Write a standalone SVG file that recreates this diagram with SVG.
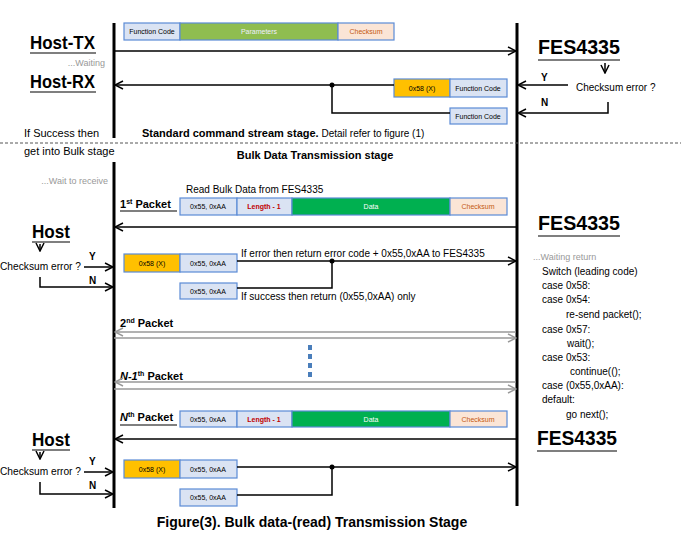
<svg xmlns="http://www.w3.org/2000/svg" width="681" height="547" viewBox="0 0 681 547">
<defs>
<marker id="ah" markerWidth="10" markerHeight="10" refX="9" refY="5" orient="auto" markerUnits="userSpaceOnUse"><path d="M1,1 L9,5 L1,9" fill="none" stroke="#000" stroke-width="1.5"/></marker>
<marker id="ahg" markerWidth="10" markerHeight="10" refX="9" refY="5" orient="auto" markerUnits="userSpaceOnUse"><path d="M1,1 L9,5 L1,9" fill="none" stroke="#999" stroke-width="1.5"/></marker>
</defs>
<style>
text{font-family:"Liberation Sans",Arial,sans-serif;fill:#000}
.big{font-size:19px;font-weight:bold}
.fes{font-size:21px;font-weight:bold}
.lbl{font-size:10px}
.bx{font-size:7px;text-anchor:middle}
.grey{fill:#999;font-size:9px}
.b{font-weight:bold}
.ln{stroke:#000;stroke-width:1.5;fill:none}
.life{stroke:#000;stroke-width:3}
.lb{fill:#dae3f3;stroke:#5b8bd6;stroke-width:1.2}
.gr{fill:#ffc000;stroke:#5b8bd6;stroke-width:1.2}
.ck{fill:#fbe5d6;stroke:#5b8bd6;stroke-width:1.2}
.pm{fill:#8fbd50;stroke:#5b8bd6;stroke-width:1.2}
.dt{fill:#00b050;stroke:#5b8bd6;stroke-width:1.2}
.und{stroke:#000;stroke-width:1.2}
</style>
<rect width="681" height="547" fill="#fff"/>
<g id="lifelines">
<line class="life" x1="114" y1="23" x2="114" y2="138"/>
<line class="life" x1="114" y1="162" x2="114" y2="508"/>
<line class="life" x1="517" y1="23" x2="517" y2="506"/>
<line x1="0" y1="143" x2="681" y2="143" stroke="#555" stroke-width="1" stroke-dasharray="3,2"/>
</g>
<g id="labels">
<text x="30" y="49" class="big" textLength="65" lengthAdjust="spacingAndGlyphs">Host-TX</text><line class="und" x1="30" y1="53" x2="96" y2="53"/>
<text x="105" y="66" class="grey" text-anchor="end">...Waiting</text>
<text x="30" y="88" class="big" textLength="65" lengthAdjust="spacingAndGlyphs">Host-RX</text><line class="und" x1="30" y1="92" x2="96" y2="92"/>
<text x="538" y="54" class="fes" textLength="82" lengthAdjust="spacingAndGlyphs">FES4335</text><line class="und" x1="538" y1="60" x2="620" y2="60"/>
<text x="576" y="91" class="lbl">Checksum error ?</text>
<text x="541" y="81" class="lbl b">Y</text><text x="541" y="106" class="lbl b">N</text>
<text x="24" y="137" font-size="11">If Success then</text>
<text x="24" y="155" font-size="11">get into Bulk stage</text>
<text x="142" y="137" font-size="11" class="b">Standard command stream stage.<tspan font-weight="normal" font-size="10"> Detail refer to figure (1)</tspan></text>
<text x="315" y="159" font-size="11" class="b" text-anchor="middle">Bulk Data Transmission stage</text>
<text x="108" y="184" class="grey" text-anchor="end">...Wait to receive</text>
<text x="186" y="193" class="lbl">Read Bulk Data from FES4335</text>
<text x="120" y="208" font-size="11" class="b">1<tspan font-size="7" dy="-4">st</tspan><tspan dy="4"> Packet</tspan></text><line class="und" x1="120" y1="211" x2="177" y2="211"/>
<text x="538" y="230" class="fes" textLength="82" lengthAdjust="spacingAndGlyphs">FES4335</text><line class="und" x1="538" y1="236" x2="620" y2="236"/>
<text x="32" y="238" class="big" textLength="38" lengthAdjust="spacingAndGlyphs">Host</text><line class="und" x1="32" y1="242" x2="70" y2="242"/>
<text x="0" y="270" class="lbl" textLength="81" lengthAdjust="spacingAndGlyphs">Checksum error ?</text>
<text x="89" y="260" class="lbl b">Y</text><text x="89" y="284" class="lbl b">N</text>
<text x="241" y="257" class="lbl">If error  then return error code +  0x55,0xAA to FES4335</text>
<text x="241" y="300" class="lbl">If success then return (0x55,0xAA) only</text>
<text x="120" y="327" font-size="11" class="b">2<tspan font-size="7" dy="-4">nd</tspan><tspan dy="4"> Packet</tspan></text>
<text x="120" y="380" font-size="11" class="b"><tspan font-style="italic">N-1</tspan><tspan font-size="7" dy="-4">th</tspan><tspan dy="4"> Packet</tspan></text>
<text x="120" y="421" font-size="11" class="b"><tspan font-style="italic">N</tspan><tspan font-size="7" dy="-4">th</tspan><tspan dy="4"> Packet</tspan></text><line class="und" x1="120" y1="425" x2="177" y2="425"/>
<text x="537" y="445" class="fes" textLength="80" lengthAdjust="spacingAndGlyphs">FES4335</text><line class="und" x1="537" y1="451" x2="617" y2="451"/>
<text x="32" y="446" class="big" textLength="38" lengthAdjust="spacingAndGlyphs">Host</text><line class="und" x1="32" y1="450" x2="70" y2="450"/>
<text x="0" y="475" class="lbl" textLength="81" lengthAdjust="spacingAndGlyphs">Checksum error ?</text>
<text x="89" y="465" class="lbl b">Y</text><text x="89" y="489" class="lbl b">N</text>
<text x="533" y="260" class="grey">...Waiting return</text>
<g class="lbl">
<text x="542" y="275">Switch (leading code)</text>
<text x="542" y="289">case 0x58:</text>
<text x="542" y="303">case 0x54:</text>
<text x="566" y="318">re-send packet();</text>
<text x="542" y="333">case 0x57:</text>
<text x="567" y="347">wait();</text>
<text x="542" y="361">case 0x53:</text>
<text x="570" y="375">continue(();</text>
<text x="542" y="389">case (0x55,0xAA):</text>
<text x="542" y="403">default:</text>
<text x="566" y="418">go next();</text>
</g>
<text x="312" y="527" font-size="14" class="b" text-anchor="middle">Figure(3). Bulk data-(read) Transmission Stage</text>
<g fill="#4a7ebb"><rect x="308" y="345" width="4" height="5"/><rect x="308" y="354" width="4" height="5"/><rect x="308" y="363" width="4" height="5"/><rect x="308" y="372" width="4" height="5"/></g>
</g>
<g id="boxes">
<rect class="lb" x="124" y="23" width="56" height="17"/><text class="bx" x="152" y="34">Function Code</text>
<rect class="pm" x="180" y="23" width="158" height="17"/><text class="bx" x="259" y="34" font-size="8" style="fill:#eef">Parameters</text>
<rect class="ck" x="338" y="23" width="56" height="17"/><text class="bx" x="366" y="34" style="fill:#c55a11" font-size="8">Checksum</text>
<rect class="gr" x="394" y="79" width="56" height="18"/><text class="bx" x="422" y="91">0x58 (X)</text>
<rect class="lb" x="450" y="79" width="57" height="18"/><text class="bx" x="478" y="91">Function Code</text>
<rect class="lb" x="450" y="108" width="57" height="16"/><text class="bx" x="478" y="119">Function Code</text>
<rect class="lb" x="180" y="198" width="57" height="17"/><text class="bx" x="208" y="209">0x55, 0xAA</text>
<rect class="lb" x="237" y="198" width="55" height="17"/><text class="bx b" x="264" y="209" style="fill:#c00000">Length - 1</text>
<rect class="dt" x="292" y="198" width="158" height="17"/><text class="bx" x="371" y="209" style="fill:#fff" font-size="8">Data</text>
<rect class="ck" x="450" y="198" width="57" height="17"/><text class="bx" x="478" y="209" style="fill:#c55a11" font-size="8">Checksum</text>
<rect class="gr" x="124" y="254" width="56" height="18"/><text class="bx" x="152" y="266">0x58 (X)</text>
<rect class="lb" x="180" y="254" width="57" height="18"/><text class="bx" x="208" y="266">0x55, 0xAA</text>
<rect class="lb" x="180" y="283" width="57" height="16"/><text class="bx" x="208" y="294">0x55, 0xAA</text>
<rect class="lb" x="180" y="411" width="57" height="16"/><text class="bx" x="208" y="422">0x55, 0xAA</text>
<rect class="lb" x="237" y="411" width="55" height="16"/><text class="bx b" x="264" y="422" style="fill:#c00000">Length - 1</text>
<rect class="dt" x="292" y="411" width="158" height="16"/><text class="bx" x="371" y="422" style="fill:#fff" font-size="8">Data</text>
<rect class="ck" x="450" y="411" width="57" height="16"/><text class="bx" x="478" y="422" style="fill:#c55a11" font-size="8">Checksum</text>
<rect class="gr" x="124" y="460" width="56" height="18"/><text class="bx" x="152" y="472">0x58 (X)</text>
<rect class="lb" x="180" y="460" width="57" height="18"/><text class="bx" x="208" y="472">0x55, 0xAA</text>
<rect class="lb" x="180" y="489" width="57" height="17"/><text class="bx" x="208" y="500">0x55, 0xAA</text>
</g>
<g id="connectors">
<line class="ln" x1="114" y1="51" x2="516" y2="51" marker-end="url(#ah)"/>
<line class="ln" x1="394" y1="85" x2="115" y2="85" marker-end="url(#ah)"/>
<circle cx="332" cy="85" r="2.5"/>
<path class="ln" d="M332,85 V113 H450"/>
<line class="ln" x1="605" y1="63" x2="605" y2="73" marker-end="url(#ah)"/>
<line class="ln" x1="568" y1="85" x2="518" y2="85" marker-end="url(#ah)"/>
<path class="ln" d="M608,102 V113 H518" marker-end="url(#ah)"/>
<line class="ln" x1="516" y1="227" x2="115" y2="227" marker-end="url(#ah)"/>
<line class="ln" x1="40" y1="244" x2="40" y2="251" marker-end="url(#ah)"/>
<line class="ln" x1="84" y1="267" x2="113" y2="267" marker-end="url(#ah)"/>
<path class="ln" d="M40,277 V287 H113" marker-end="url(#ah)"/>
<line class="ln" x1="237" y1="261" x2="516" y2="261" marker-end="url(#ah)"/>
<circle cx="332" cy="261" r="2.5"/>
<path class="ln" d="M237,288 H332 V261"/>
<line x1="516" y1="332" x2="115" y2="332" stroke="#999" stroke-width="1.5" marker-end="url(#ahg)"/>
<line x1="114" y1="338" x2="516" y2="338" stroke="#999" stroke-width="1.5" marker-end="url(#ahg)"/>
<line x1="516" y1="382" x2="115" y2="382" stroke="#999" stroke-width="1.5" marker-end="url(#ahg)"/>
<line x1="114" y1="389" x2="516" y2="389" stroke="#999" stroke-width="1.5" marker-end="url(#ahg)"/>
<line class="ln" x1="516" y1="439" x2="115" y2="439" marker-end="url(#ah)"/>
<line class="ln" x1="40" y1="452" x2="40" y2="459" marker-end="url(#ah)"/>
<line class="ln" x1="84" y1="472" x2="113" y2="472" marker-end="url(#ah)"/>
<path class="ln" d="M40,482 V494 H113" marker-end="url(#ah)"/>
<line class="ln" x1="237" y1="467" x2="516" y2="467" marker-end="url(#ah)"/>
<circle cx="332" cy="467" r="2.5"/>
<path class="ln" d="M237,495 H332 V467"/>
</g>
</svg>
